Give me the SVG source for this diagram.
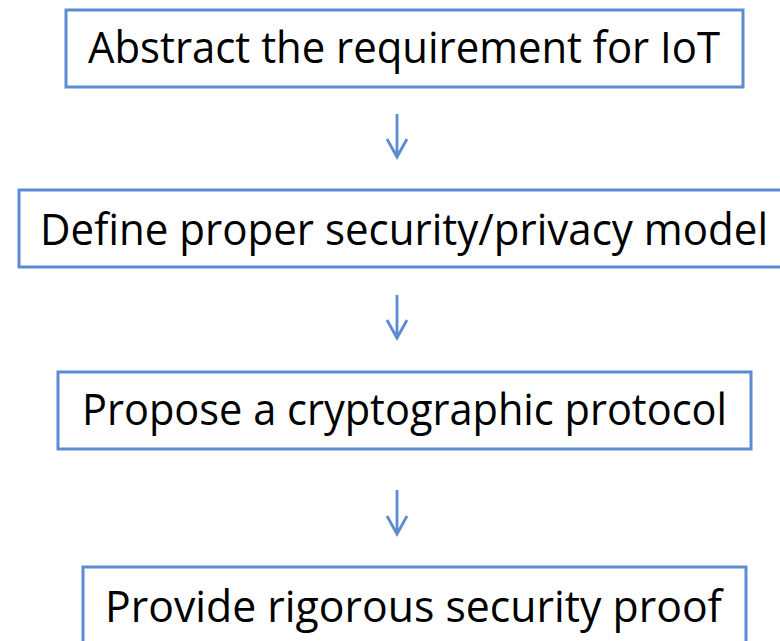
<svg xmlns="http://www.w3.org/2000/svg" width="780" height="641" viewBox="0 0 780 641">
  <defs>
    <style>
      .box { fill: #ffffff; stroke: #5a8bd3; stroke-width: 3; }
      .label { font-family: "Open Sans", "Noto Sans", sans-serif; font-size: 43px; fill: #000000; }
      .flow { stroke: #5a8bd3; stroke-width: 2.8; fill: none; stroke-linecap: butt; stroke-linejoin: miter; }
    </style>
  </defs>
  <rect width="780" height="641" fill="#ffffff"/>

  <g id="connectors">
    <path class="flow" d="M397 114 V157 M387 139 L397 157 L407 139"/>
    <path class="flow" d="M397 295 V338 M387 320 L397 338 L407 320"/>
    <path class="flow" d="M397 490 V534 M387 516 L397 534 L407 516"/>
  </g>

  <g id="node-abstract">
    <rect class="box" x="66" y="10" width="677" height="77"/>
    <text class="label" x="88" y="63" textLength="632" lengthAdjust="spacingAndGlyphs">Abstract the requirement for IoT</text>
  </g>

  <g id="node-define">
    <rect class="box" x="19" y="190" width="770" height="77"/>
    <text class="label" x="40" y="245" textLength="728" lengthAdjust="spacingAndGlyphs">Define proper security/privacy model</text>
  </g>

  <g id="node-propose">
    <rect class="box" x="58" y="372" width="693" height="77"/>
    <text class="label" x="82" y="425" textLength="645" lengthAdjust="spacingAndGlyphs">Propose a cryptographic protocol</text>
  </g>

  <g id="node-proof">
    <rect class="box" x="83" y="567" width="663" height="90"/>
    <text class="label" x="105" y="622" textLength="617" lengthAdjust="spacingAndGlyphs">Provide rigorous security proof</text>
  </g>
</svg>
